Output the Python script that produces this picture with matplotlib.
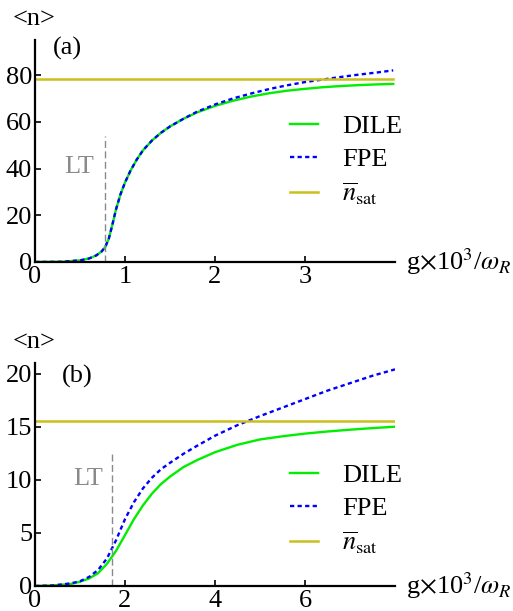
import numpy as np
import matplotlib
matplotlib.use("Agg")
import matplotlib.pyplot as plt

plt.rcParams['font.family'] = ['Liberation Serif', 'DejaVu Serif']
plt.rcParams['mathtext.fontset'] = 'stix'

# ---------------------------------------------------------------
# panel (a)
# ---------------------------------------------------------------
g_a = [0, 0.3, 0.5, 0.6, 0.68, 0.74, 0.78, 0.82, 0.86, 0.9, 0.95, 1.0, 1.06,
       1.13, 1.2, 1.3, 1.4, 1.5, 1.65, 1.8, 2.0, 2.2, 2.4, 2.6, 2.8, 3.0,
       3.2, 3.4, 3.6, 3.8, 3.98]
dile_a = [0, 0.1, 0.7, 1.5, 2.8, 4.5, 6.4, 10.0, 16.0, 22.5, 29.0, 34.0, 39.0,
          43.8, 47.8, 52.0, 55.3, 58.0, 61.3, 64.0, 66.8, 69.0, 70.8, 72.2,
          73.3, 74.1, 74.8, 75.3, 75.7, 76.0, 76.2]
fpe_a = [0, 0.1, 0.7, 1.5, 2.8, 4.5, 6.4, 10.0, 16.0, 22.5, 29.0, 34.0, 39.0,
         43.8, 47.8, 52.0, 55.3, 58.0, 61.3, 64.3, 67.4, 70.0, 72.1, 74.0,
         75.6, 77.0, 78.1, 79.2, 80.2, 81.1, 82.0]
nsat_a = 78.2
lt_a = 0.78

# ---------------------------------------------------------------
# panel (b)
# ---------------------------------------------------------------
g_b = [0, 0.4, 0.8, 1.0, 1.2, 1.4, 1.6, 1.8, 2.0, 2.2, 2.4, 2.6, 2.8, 3.0,
       3.3, 3.6, 4.0, 4.5, 5.0, 5.5, 6.0, 6.5, 7.0, 7.5, 8.0]
dile_b = [0, 0.05, 0.2, 0.4, 0.7, 1.2, 2.1, 3.3, 4.8, 6.3, 7.6, 8.7, 9.6,
          10.3, 11.2, 11.85, 12.6, 13.3, 13.8, 14.1, 14.35, 14.55, 14.72,
          14.87, 15.0]
fpe_b = [0, 0.05, 0.25, 0.45, 0.85, 1.5, 2.6, 4.3, 6.3, 7.9, 9.2, 10.2, 11.0,
         11.6, 12.45, 13.2, 14.15, 15.15, 16.0, 16.8, 17.6, 18.4, 19.1, 19.8,
         20.4]
nsat_b = 15.57
lt_b = 1.72

green = '#00ee00'
blue = '#0000ff'
olive = '#c9c01c'
grey = '#8a8a8a'

fig = plt.figure(figsize=(5.13, 6.11), dpi=100)
W, H = 513.0, 611.0
fs = 19


def panel(rect, g, dile, fpe, nsat, lt, lt_top, xlim, ylim, xticks, yticks,
          tag, lt_text_pos, leg_y):
    ax = fig.add_axes(rect)
    ax.plot(g, dile, color=green, lw=1.7, label='DILE')
    ax.plot(g, fpe, color=blue, lw=1.7, dashes=(1.8, 1.4), label='FPE')
    ax.plot([0, g[-1]], [nsat, nsat], color=olive, lw=1.8,
            label=r'$\overline{n}_{\rm sat}$')
    ax.plot([lt, lt], [0, lt_top], color=grey, lw=1.0, dashes=(5, 2.5))
    ax.text(lt_text_pos[0], lt_text_pos[1], 'LT', color=grey, fontsize=fs,
            ha='right', va='center')

    ax.set_xlim(*xlim)
    ax.set_ylim(*ylim)
    ax.set_xticks(xticks)
    ax.set_yticks(yticks)
    ax.tick_params(direction='in', length=4, width=1.2, labelsize=fs, pad=2)
    ax.tick_params(axis='x', pad=3)
    for s in ['top', 'right']:
        ax.spines[s].set_visible(False)
    for s in ['left', 'bottom']:
        ax.spines[s].set_linewidth(1.6)

    ax.text(-0.062, 1.095, '<n>', transform=ax.transAxes, fontsize=fs,
            ha='left', va='center')
    ax.text(tag[1], tag[2], tag[0], transform=ax.transAxes, fontsize=fs,
            ha='left', va='center')
    ax.text(1.03, 0.0, r'g$\times$10$^3$/$\omega_R$', transform=ax.transAxes,
            fontsize=fs, ha='left', va='center', clip_on=False)

    ax.legend(loc='center left', bbox_to_anchor=(0.658, leg_y), frameon=False,
              fontsize=fs, handlelength=1.05, handletextpad=0.9,
              labelspacing=0.36, borderpad=0.2)
    return ax


panel([35 / W, 1 - 262 / H, 360 / W, 222 / H], g_a, dile_a, fpe_a, nsat_a,
      lt_a, 54, (0, 4.0), (0, 95), [0, 1, 2, 3], [0, 20, 40, 60, 80],
      ('(a)', 0.05, 0.96), (0.66, 40.8), 0.455)

panel([35 / W, 1 - 586 / H, 360 / W, 223 / H], g_b, dile_b, fpe_b, nsat_b,
      lt_b, 12.7, (0, 8.0), (0, 21), [0, 2, 4, 6], [0, 5, 10, 15, 20],
      ('(b)', 0.075, 0.94), (1.51, 10.1), 0.341)

fig.savefig('out.png', dpi=100)
